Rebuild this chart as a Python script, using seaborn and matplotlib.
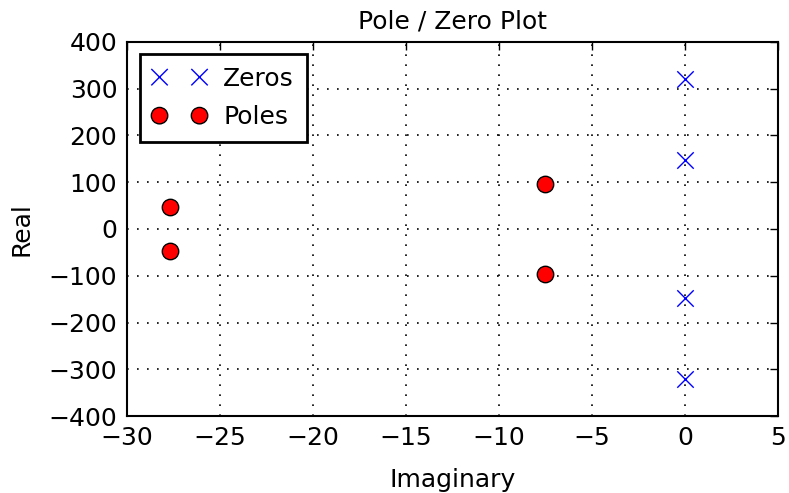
import matplotlib
matplotlib.use("Agg")
import matplotlib.pyplot as plt
import seaborn as sns
import pandas as pd

zeros_re = [0.0, 0.0, 0.0, 0.0]
zeros_im = [320, 148, -148, -320]
poles_re = [-27.7, -27.7, -7.55, -7.55]
poles_im = [47, -47, 97, -97]

sns.set_style("white")
plt.rcParams['font.family'] = ['DejaVu Sans']
plt.rcParams['font.size'] = 18
plt.rcParams['text.color'] = 'black'
plt.rcParams['axes.labelcolor'] = 'black'

fig = plt.figure(figsize=(7.89, 4.93), dpi=100)
ax = fig.add_axes([0.161, 0.156, 0.825, 0.759])

dz = pd.DataFrame({"x": zeros_re, "y": zeros_im})
dp = pd.DataFrame({"x": poles_re, "y": poles_im})

sns.scatterplot(data=dz, x="x", y="y", ax=ax, marker="x", s=140, color="blue",
                linewidth=1.0, label="Zeros", zorder=3)
sns.scatterplot(data=dp, x="x", y="y", ax=ax, marker="o", s=140, color="red",
                edgecolor="black", linewidth=1.0, label="Poles", zorder=3)

ax.set_xlim(-30, 5)
ax.set_ylim(-400, 400)
ax.set_xticks(range(-30, 6, 5))
ax.set_yticks(range(-400, 401, 100))
ax.grid(True, color="black", linestyle=(0, (1, 5)), linewidth=1.2)
ax.tick_params(direction="in", length=6, width=1, top=True, right=True,
               labelsize=18, colors="black", pad=7)
for sp in ax.spines.values():
    sp.set_visible(True)
    sp.set_color("black")
    sp.set_linewidth(1.5)

ax.set_xlabel("Imaginary", fontsize=18, labelpad=13, color="black")
ax.set_ylabel("Real", fontsize=18, labelpad=11, color="black")
ax.set_title("Pole / Zero Plot", fontsize=18, pad=10, color="black")

leg = ax.legend(loc="upper left", scatterpoints=2, scatteryoffsets=[0.5],
                fancybox=False, frameon=True, fontsize=18, borderaxespad=0.5,
                handletextpad=0.65, handlelength=2.2, labelspacing=0.58,
                borderpad=0.5)
leg.get_frame().set_edgecolor("black")
leg.get_frame().set_linewidth(2)
leg.get_frame().set_alpha(1)

fig.savefig("out.png", dpi=100)
